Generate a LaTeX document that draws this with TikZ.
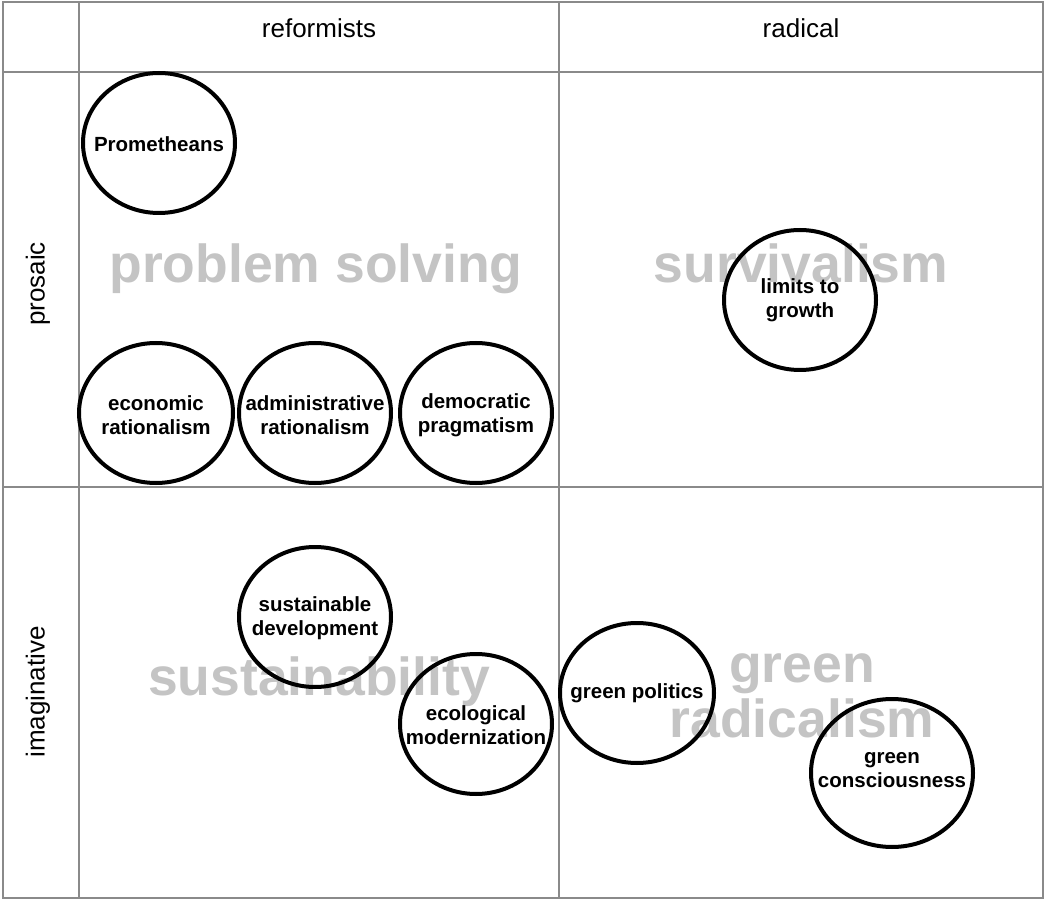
\documentclass[tikz,border=0pt]{standalone}
\usepackage{fontspec}
\setmainfont{Liberation Sans}
\definecolor{gridgray}{HTML}{8A8A8A}
\definecolor{watermark}{HTML}{C4C4C4}
\tikzset{
  gridline/.style={draw=gridgray, line width=2pt},
  header/.style={font=\fontsize{26}{30}\selectfont, anchor=base},
  sidelabel/.style={font=\fontsize{26}{30}\selectfont, rotate=90},
  theme/.style={font=\fontsize{53.5}{53.5}\selectfont\bfseries, text=watermark, anchor=base},
  discourse/.style={inner sep=0pt, align=center,
    font=\fontsize{20.5}{24}\selectfont\bfseries},
  ring/.style={draw=black, line width=4pt}
}
\begin{document}
\begin{tikzpicture}[x=1pt, y=-1pt]
\useasboundingbox (0,0) rectangle (1045,901);
\fill[white] (0,0) rectangle (1045,901);

% table frame
\draw[gridline] (3,2) rectangle (1043,898);
\draw[gridline] (79,2) -- (79,898);
\draw[gridline] (559,2) -- (559,898);
\draw[gridline] (3,72) -- (1043,72);
\draw[gridline] (3,487) -- (1043,487);

% column and row headings
\node[header] (hreform) at (319,38) {reformists};
\node[header] (hradical) at (801,38) {radical};
\node[sidelabel] (hprosaic) at (38,284) {prosaic};
\node[sidelabel] (himag) at (38,692) {imaginative};

% quadrant themes
\node[theme] (tproblem) at (316,283) {problem solving};
\node[theme] (tsurv) at (801,283) {survivalism};
\node[theme] (tsust) at (319,695) {sustainability};
\node[theme] (tgreen) at (802,682) {green};
\node[theme] (tradical) at (802,737) {radicalism};

% environmental discourses
\node[discourse] (prom) at (159,144) {Prometheans};
\node[discourse] (econ) at (156,415) {economic\\rationalism};
\node[discourse] (admin) at (315,415) {administrative\\rationalism};
\node[discourse] (demo) at (476,415) {democratic\\pragmatism};
\node[discourse] (limits) at (800,300) {limits to\\growth};
\node[discourse] (susdev) at (315,618) {sustainable\\development};
\node[discourse] (ecomod) at (476,725) {ecological\\modernization};
\node[discourse] (gpol) at (637,693) {green politics};
\node[discourse] (gcons) at (892,770) {green\\consciousness};

% rings around the discourses
\draw[ring] (159,143) ellipse [x radius=76, y radius=70];
\draw[ring] (156,413) ellipse [x radius=77, y radius=70];
\draw[ring] (315,413) ellipse [x radius=76, y radius=70];
\draw[ring] (476,413) ellipse [x radius=76, y radius=70];
\draw[ring] (800,300) ellipse [x radius=76, y radius=70];
\draw[ring] (315,617) ellipse [x radius=76, y radius=70];
\draw[ring] (476,724) ellipse [x radius=76, y radius=70];
\draw[ring] (637,693) ellipse [x radius=77, y radius=70];
\draw[ring] (892,773) ellipse [x radius=81, y radius=74];
\end{tikzpicture}
\end{document}
